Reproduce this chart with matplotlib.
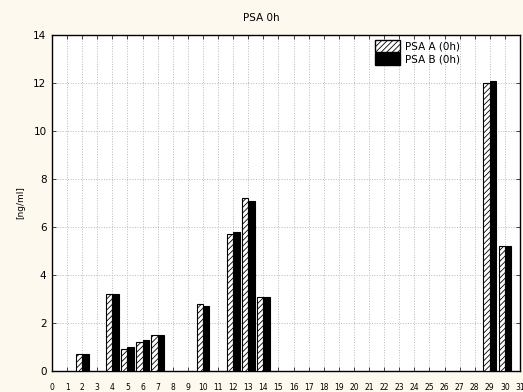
import numpy as np
import matplotlib
matplotlib.use("Agg")
import matplotlib.pyplot as plt
from matplotlib.patches import Patch

# data (case number -> PSA value)
cases = [2, 4, 5, 6, 7, 10, 12, 13, 14, 29, 30]
psa_a = [0.7, 3.2, 0.9, 1.2, 1.5, 2.8, 5.7, 7.2, 3.1, 12.0, 5.2]
psa_b = [0.7, 3.2, 1.0, 1.3, 1.5, 2.7, 5.8, 7.1, 3.1, 12.1, 5.2]
x_ticks = list(range(0, 32))
y_ticks = [0, 2, 4, 6, 8, 10, 12, 14]

plt.rcParams["hatch.linewidth"] = 0.6

fig = plt.figure(figsize=(5.23, 3.92), dpi=100, facecolor="#fdf9ee")
ax = fig.add_axes([52 / 523, 1 - 371 / 392, 468 / 523, 336 / 392])
ax.set_facecolor("white")

x = np.array(cases)
w = 0.42
ax.bar(x - w / 2, psa_a, width=w, color="white", edgecolor="black",
       hatch="//////", linewidth=0.8, label="PSA A (0h)", zorder=3)
ax.bar(x + w / 2, psa_b, width=w, color="black", edgecolor="black",
       linewidth=0.8, label="PSA B (0h)", zorder=3)

ax.set_xlim(0, 31)
ax.set_ylim(0, 14)
ax.set_xticks(x_ticks)
ax.set_yticks(y_ticks)
ax.tick_params(axis="x", labelsize=5.5, direction="in", length=3, pad=9,
               top=True, width=0.5)
ax.tick_params(axis="y", labelsize=7.5, direction="in", length=3, pad=4,
               right=True, width=0.5)
ax.grid(True, linestyle=":", color="#b8b8b8", linewidth=0.7, zorder=0)
for s in ax.spines.values():
    s.set_linewidth(1.0)

ax.set_ylabel("[ng/ml]", fontsize=6.5, labelpad=6)
fig.text(0.5, 1 - 18 / 392, "PSA 0h", ha="center", va="center", fontsize=7.5)

handles = [Patch(facecolor="white", edgecolor="black", hatch="//////", label="PSA A (0h)"),
           Patch(facecolor="black", edgecolor="black", label="PSA B (0h)")]
ax.legend(handles=handles, loc="upper left", bbox_to_anchor=(0.69, 0.985),
          fontsize=7.5, frameon=False, handlelength=2.4, handleheight=1.4,
          labelspacing=0.05, handletextpad=0.5, borderpad=0, borderaxespad=0)

fig.savefig("out.png", dpi=100, facecolor=fig.get_facecolor())
